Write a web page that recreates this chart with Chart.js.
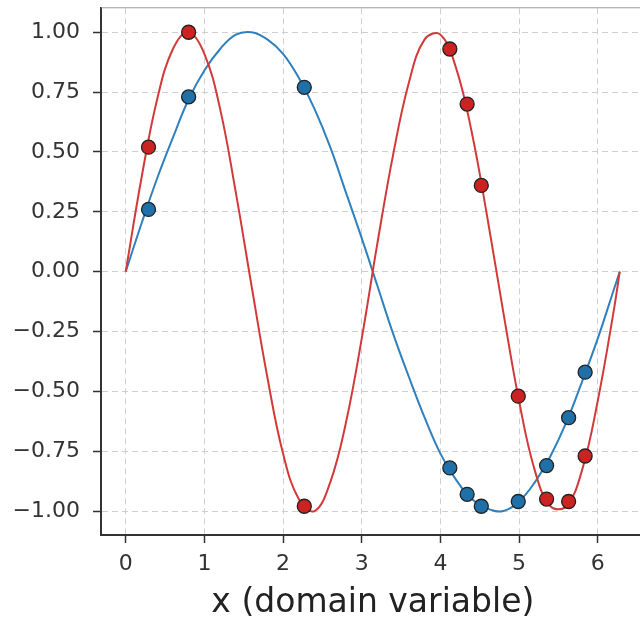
<!DOCTYPE html>
<html>
<head>
<meta charset="utf-8">
<script src="https://cdn.jsdelivr.net/npm/chart.js@4/dist/chart.umd.min.js"></script>
<style>
    html, body { margin: 0; padding: 0; background: #ffffff; overflow: hidden; }
    #wrap { position: relative; width: 653px; height: 618px; }
</style>
</head>
<body>
<div id="wrap"><canvas id="waves"></canvas></div>
<script>
// sampled curve, x in radians
const xs = [0, 0.2, 0.4, 0.6, 0.8, 1.0, 1.2, 1.4, 1.6, 1.8, 2.0, 2.2, 2.4, 2.6, 2.8, 3.0,
    3.2, 3.4, 3.6, 3.8, 4.0, 4.2, 4.4, 4.6, 4.8, 5.0, 5.2, 5.4, 5.6, 5.8, 6.0, 6.2, 6.28];
const blueCurve = [0, 0.20, 0.39, 0.56, 0.72, 0.84, 0.93, 0.99, 1.00, 0.97, 0.91, 0.81, 0.68, 0.52, 0.33, 0.14,
    -0.06, -0.26, -0.44, -0.61, -0.76, -0.87, -0.95, -0.99, -1.00, -0.96, -0.88, -0.77, -0.63, -0.46, -0.28, -0.08, 0.00];
const redCurve = [0, 0.39, 0.72, 0.93, 1.00, 0.91, 0.68, 0.33, -0.06, -0.44, -0.76, -0.95, -1.00, -0.88, -0.63, -0.28,
    0.12, 0.49, 0.79, 0.97, 0.99, 0.85, 0.58, 0.22, -0.17, -0.54, -0.83, -0.98, -0.98, -0.83, -0.54, -0.17, 0.00];

// sample points marked on both curves
const markX = [0.29, 0.80, 2.27, 4.12, 4.34, 4.52, 4.99, 5.35, 5.63, 5.84];
const blueMarks = [0.26, 0.73, 0.77, -0.82, -0.93, -0.98, -0.96, -0.81, -0.61, -0.42];
const redMarks = [0.52, 1.00, -0.98, 0.93, 0.70, 0.36, -0.52, -0.95, -0.96, -0.77];

const xTicks = [0, 1, 2, 3, 4, 5, 6];
const yTicks = [-1.0, -0.75, -0.5, -0.25, 0, 0.25, 0.5, 0.75, 1.0];
const xLabel = 'x (domain variable)';

const BLUE_LINE = '#2f80bd';
const BLUE_DOT = '#1f6fa8';
const RED_LINE = '#d23a3a';
const RED_DOT = '#cc2222';

const pairs = (xv, yv) => xv.map((x, i) => ({ x, y: yv[i] }));

const minus = v => (v < 0 ? '\u2212' : '') + Math.abs(v);

// light frame line along the top of the plot
const topFrame = {
    id: 'topFrame',
    afterDraw(chart) {
        const { ctx, chartArea } = chart;
        ctx.save();
        ctx.strokeStyle = '#9a9a9a';
        ctx.lineWidth = 1;
        ctx.beginPath();
        ctx.moveTo(chartArea.left, chartArea.top - 0.5);
        ctx.lineTo(chartArea.right, chartArea.top - 0.5);
        ctx.stroke();
        ctx.restore();
    }
};

const gridStyle = {
    color: '#cfcfcf',
    lineWidth: 1,
    tickColor: '#333333',
    tickLength: 8,
    tickWidth: 1.5,
    tickBorderDash: []
};

new Chart(document.getElementById('waves'), {
    type: 'line',
    data: {
        datasets: [
            {
                data: pairs(markX, redMarks),
                showLine: false,
                pointRadius: 7,
                pointBackgroundColor: RED_DOT,
                pointBorderColor: '#222222',
                pointBorderWidth: 1.3
            },
            {
                data: pairs(markX, blueMarks),
                showLine: false,
                pointRadius: 7,
                pointBackgroundColor: BLUE_DOT,
                pointBorderColor: '#222222',
                pointBorderWidth: 1.3
            },
            {
                data: pairs(xs, redCurve),
                borderColor: RED_LINE,
                borderWidth: 2,
                pointRadius: 0,
                tension: 0.4
            },
            {
                data: pairs(xs, blueCurve),
                borderColor: BLUE_LINE,
                borderWidth: 2,
                pointRadius: 0,
                tension: 0.4
            }
        ]
    },
    options: {
        responsive: true,
        maintainAspectRatio: false,
        animation: false,
        events: [],
        layout: { padding: { top: 0, right: 2, left: 0, bottom: 0 } },
        plugins: { legend: { display: false }, tooltip: { enabled: false } },
        scales: {
            x: {
                type: 'linear',
                min: -0.314,
                max: 6.597,
                afterBuildTicks: s => { s.ticks = xTicks.map(v => ({ value: v })); },
                afterFit: s => {
                    s.height = 83;
                    s.paddingLeft = 0;
                    s.paddingRight = 0;
                },
                ticks: {
                    callback: v => minus(v),
                    color: '#333333',
                    padding: 8,
                    maxRotation: 0,
                    font: { family: 'DejaVu Sans', size: 22 }
                },
                grid: gridStyle,
                border: { color: '#333333', width: 2, dash: [6, 4] },
                title: {
                    display: true,
                    text: xLabel,
                    color: '#222222',
                    padding: { top: 5, bottom: -5 },
                    font: { family: 'DejaVu Sans', size: 33 }
                }
            },
            y: {
                min: -1.1,
                max: 1.1,
                afterBuildTicks: s => { s.ticks = yTicks.map(v => ({ value: v })); },
                afterFit: s => {
                    s.width = 101;
                    s.paddingTop = 0;
                    s.paddingBottom = 0;
                },
                ticks: {
                    callback: v => (v < 0 ? '\u2212' : '') + Math.abs(v).toFixed(2),
                    color: '#333333',
                    padding: 13,
                    font: { family: 'DejaVu Sans', size: 22 }
                },
                grid: gridStyle,
                border: { color: '#333333', width: 2, dash: [6, 4] }
            }
        }
    },
    plugins: [topFrame]
});
</script>
</body>
</html>
